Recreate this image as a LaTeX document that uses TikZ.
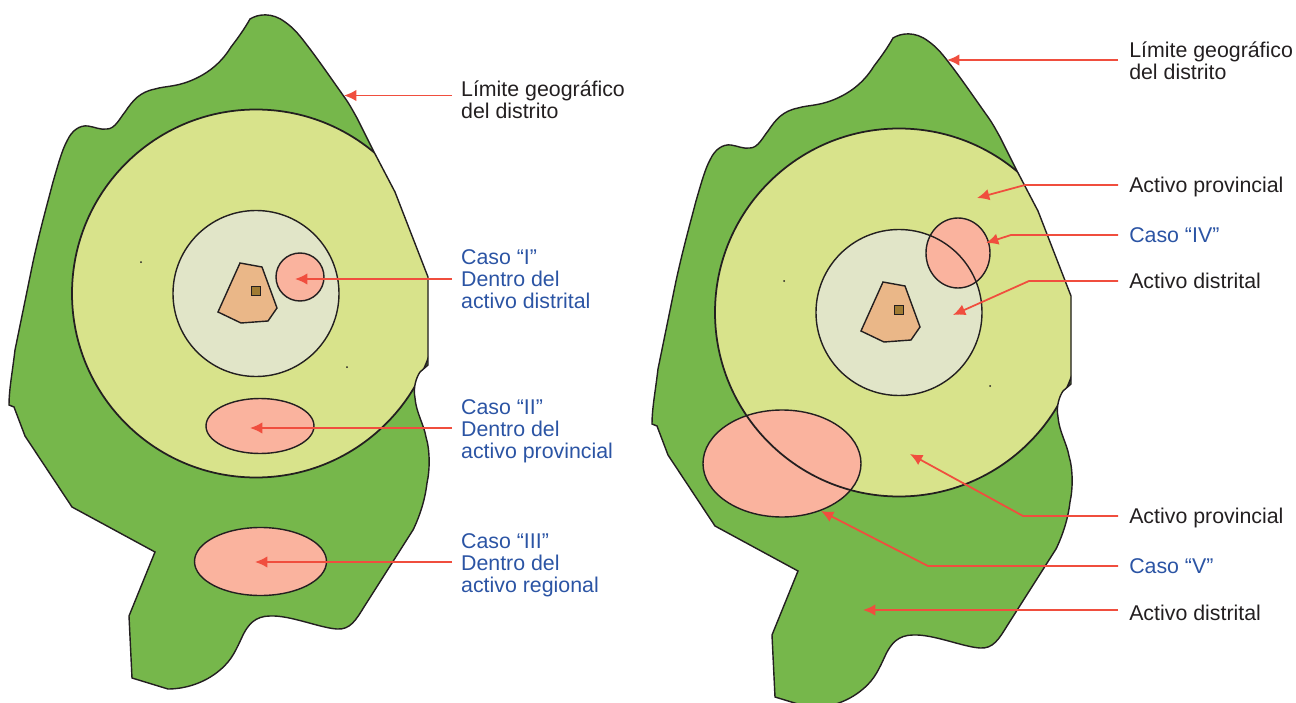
\documentclass[tikz,border=0pt]{standalone}
\usepackage{fontspec}
\setmainfont{Liberation Sans}
\usetikzlibrary{arrows.meta}

\definecolor{verdeDistrito}{HTML}{76B74B}
\definecolor{verdeProvincial}{HTML}{D8E38B}
\definecolor{verdeDistrital}{HTML}{E1E5C8}
\definecolor{rosaCaso}{HTML}{FAB39E}
\definecolor{tostadoCentro}{HTML}{EAB788}
\definecolor{marronCentro}{HTML}{A07B33}
\definecolor{rojoFlecha}{HTML}{F04E3E}
\definecolor{azulCaso}{HTML}{2B54A4}
\definecolor{negroTexto}{HTML}{231F20}

\tikzset{
    contorno/.style={draw=negroTexto, line width=0.8pt},
    flecha/.style={draw=rojoFlecha, line width=1pt, -{Latex[length=7pt,width=6.5pt]}},
    etiqueta/.style={anchor=west, align=left, inner ysep=0pt, inner xsep=5pt,
        text=negroTexto, font=\fontsize{12.15pt}{12.6pt}\selectfont},
    caso/.style={etiqueta, text=azulCaso},
    derecha/.style={inner xsep=6.2pt},
    areacaso/.style={fill=rosaCaso, contorno}
}

% Limite del distrito
\newcommand{\limitedistrito}{
    (250,19) .. controls (258,14) and (272,12) .. (285,22)
    .. controls (295,29) and (300,36) .. (310,49)
    .. controls (322,65) and (335,84) .. (345,98)
    .. controls (350,105) and (353,111) .. (357,118)
    -- (373,150) -- (395,192) -- (428,277) -- (428,365) -- (420,372)
    .. controls (416,378) and (413,388) .. (415,398)
    .. controls (416,412) and (424,425) .. (426,437)
    .. controls (430,450) and (430,470) .. (427,483)
    .. controls (425,500) and (420,515) .. (414,528)
    -- (413,530) -- (364,607)
    .. controls (356,620) and (350,630) .. (337,629)
    .. controls (320,628) and (290,615) .. (270,616)
    .. controls (255,616) and (248,625) .. (243,635)
    .. controls (236,650) and (232,660) .. (220,670)
    .. controls (205,683) and (185,689) .. (168,689)
    -- (132,678) -- (129,616) -- (155,552) -- (72,507) -- (25,436) -- (14,407) -- (9,405)
    .. controls (9,390) and (12,375) .. (15,350)
    -- (33,262) .. controls (40,230) and (47,205) .. (53,182)
    .. controls (58,165) and (62,150) .. (67,141)
    .. controls (72,130) and (80,125) .. (88,126)
    .. controls (95,127) and (100,130) .. (107,129)
    .. controls (115,129) and (120,118) .. (125,112)
    .. controls (133,100) and (140,92) .. (155,89)
    .. controls (165,86) and (175,87) .. (190,81)
    .. controls (205,75) and (220,65) .. (231,47)
    .. controls (238,38) and (245,28) .. (250,19) -- cycle}

% Mapa completo; #1 son las areas de los casos
\newcommand{\mapadistrito}[1]{
    \fill[verdeDistrito] \limitedistrito;
    \begin{scope}
        \clip \limitedistrito;
        \fill[verdeProvincial] (256,293.5) circle[radius=184];
    \end{scope}
    \fill[verdeDistrital] (256,293.5) circle[radius=83];
    #1
    \begin{scope}
        \clip \limitedistrito;
        \draw[negroTexto, line width=1pt] (256,293.5) circle[radius=184];
    \end{scope}
    \draw[contorno] (256,293.5) circle[radius=83];
    \draw[contorno] \limitedistrito;
    % Centro poblado
    \draw[contorno, fill=tostadoCentro] (240,263) -- (262,267) -- (277,308) -- (268,321) -- (241,323) -- (218,312) -- cycle;
    \draw[contorno, fill=marronCentro] (251.5,286.5) rectangle (260.5,295.5);
    \fill[negroTexto] (141,262) circle[radius=1] (347,367) circle[radius=1];
}

\begin{document}
\begin{tikzpicture}[x=0.02cm, y=-0.02cm]
    \useasboundingbox (0,0) rectangle (1296,703);

    % Mapa izquierdo
    \mapadistrito{
        \draw[areacaso] (300,277) circle[radius=24];
        \draw[areacaso] (260,426) ellipse[x radius=54, y radius=27.5];
        \draw[areacaso] (260.5,561.5) ellipse[x radius=66, y radius=34];
    }

    % Mapa derecho
    \begin{scope}[shift={(643,19)}]
        \mapadistrito{
            \draw[areacaso] (315,234) ellipse[x radius=32, y radius=35];
            \draw[areacaso] (139,444.5) ellipse[x radius=79, y radius=53.5];
        }
    \end{scope}

    % Etiquetas izquierda
    \node[etiqueta] (limiteA) at (452,100) {Límite geográfico\\del distrito};
    \node[caso] (casoI) at (452,279) {Caso “I”\\Dentro del\\activo distrital};
    \node[caso] (casoII) at (452,431) {Caso “II”\\Dentro del\\activo provincial};
    \node[caso] (casoIII) at (452,565) {Caso “III”\\Dentro del\\activo regional};

    % Etiquetas derecha
    \node[etiqueta, derecha] (limiteB) at (1118,61) {Límite geográfico\\del distrito};
    \node[etiqueta, derecha] (provinciaB) at (1118,187) {Activo provincial};
    \node[caso, derecha] (casoIV) at (1118,235.5) {Caso “IV”};
    \node[etiqueta, derecha] (distritoB) at (1118,281) {Activo distrital};
    \node[etiqueta, derecha] (provinciaC) at (1118,518) {Activo provincial};
    \node[caso, derecha] (casoV) at (1118,566) {Caso “V”};
    \node[etiqueta, derecha] (distritoC) at (1118,613) {Activo distrital};

    % Puntas de flecha
    \coordinate (tipLimiteA) at (344,95.5);
    \coordinate (tipCasoI) at (295,279);
    \coordinate (tipCasoII) at (250,428);
    \coordinate (tipCasoIII) at (255,562);
    \coordinate (tipLimiteB) at (947,60);
    \coordinate (tipProvinciaB) at (977,198);
    \coordinate (tipCasoIV) at (986,243);
    \coordinate (tipDistritoB) at (953,315);
    \coordinate (tipProvinciaC) at (910,454);
    \coordinate (tipCasoV) at (821,511);
    \coordinate (tipDistritoC) at (863,610);
    \coordinate (tipCodoProvinciaB) at (1025,185);
    \coordinate (tipCodoCasoIV) at (1011,235);
    \coordinate (tipCodoDistritoB) at (1029,281);
    \coordinate (tipCodoProvinciaC) at (1023,516);
    \coordinate (tipCodoCasoV) at (928,566);

    % Flechas
    \draw[flecha] (limiteA.west |- tipLimiteA) -- (tipLimiteA);
    \draw[flecha] (casoI.west |- tipCasoI) -- (tipCasoI);
    \draw[flecha] (casoII.west |- tipCasoII) -- (tipCasoII);
    \draw[flecha] (casoIII.west |- tipCasoIII) -- (tipCasoIII);
    \draw[flecha] (limiteB.west |- tipLimiteB) -- (tipLimiteB);
    \draw[flecha] (provinciaB.west |- tipCodoProvinciaB) -- (tipCodoProvinciaB) -- (tipProvinciaB);
    \draw[flecha] (casoIV.west |- tipCodoCasoIV) -- (tipCodoCasoIV) -- (tipCasoIV);
    \draw[flecha] (distritoB.west |- tipCodoDistritoB) -- (tipCodoDistritoB) -- (tipDistritoB);
    \draw[flecha] (provinciaC.west |- tipCodoProvinciaC) -- (tipCodoProvinciaC) -- (tipProvinciaC);
    \draw[flecha] (casoV.west |- tipCodoCasoV) -- (tipCodoCasoV) -- (tipCasoV);
    \draw[flecha] (distritoC.west |- tipDistritoC) -- (tipDistritoC);
\end{tikzpicture}
\end{document}
